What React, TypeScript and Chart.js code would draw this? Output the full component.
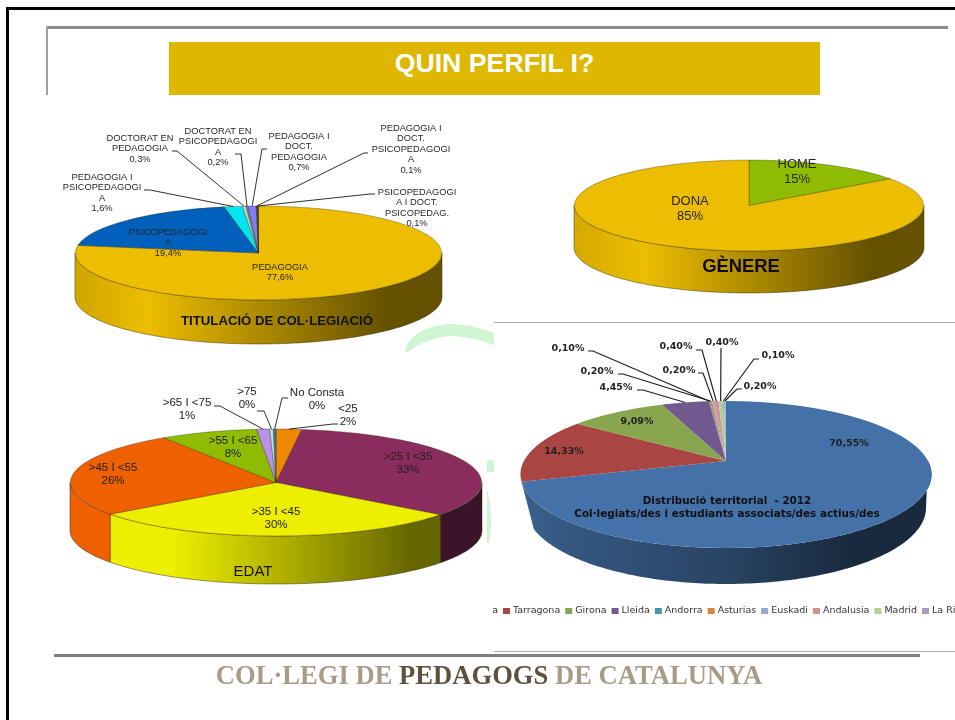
import React, { useEffect, useRef } from "react";
import { Chart, registerables } from "chart.js";

Chart.register(...registerables);

const W = 955;
const H = 720;

// ---------- DATA ----------
const titulacioCategories = [
  "PEDAGOGIA",
  "PSICOPEDAGOGI\nA",
  "PEDAGOGIA I\nPSICOPEDAGOGI\nA",
  "DOCTORAT EN\nPEDAGOGIA",
  "DOCTORAT EN\nPSICOPEDAGOGI\nA",
  "PEDAGOGIA I\nDOCT.\nPEDAGOGIA",
  "PEDAGOGIA I\nDOCT.\nPSICOPEDAGOGI\nA",
  "PSICOPEDAGOGI\nA I DOCT.\nPSICOPEDAG.",
];
const titulacioValues = [77.6, 19.4, 1.6, 0.3, 0.2, 0.7, 0.1, 0.1];
const titulacioColors = ["#ECBD00", "#0060BC", "#00E5EE", "#B8DCCC", "#6D7CB0", "#8080F0", "#303060", "#1F3050"];

const genereCategories = ["HOME", "DONA"];
const genereValues = [15, 85];
const genereColors = ["#8FBC00", "#ECBD00"];

const edatCategories = [
  "<25", ">25 I <35", ">35 I <45", ">45 I <55", ">55 I <65", ">65 I <75", ">75", "No Consta",
];
const edatValues = [2.0, 33.3, 29.6, 25.9, 7.7, 1.0, 0.3, 0.2];
const edatColors = ["#EE8800", "#8B2C5E", "#EEEE00", "#EE6000", "#8FBC00", "#BB90EE", "#B0E8C0", "#4070C0"];

const territoriCategories = [
  "Barcelona", "Tarragona", "Girona", "Lleida", "Andorra", "Asturias",
  "Euskadi", "Andalusia", "Madrid", "La Rioja", "Altres",
];
const territoriValues = [70.55, 14.33, 9.09, 4.45, 0.1, 0.2, 0.2, 0.4, 0.4, 0.1, 0.2];
const territoriColors = [
  "#4471A7", "#A94643", "#89A54E", "#71588F", "#4198AF", "#DB843D",
  "#93A9CF", "#D19392", "#B9CD96", "#A99BBD", "#8CC4D8",
];

// ---------- LAYOUT ----------
type LabelPos = { x: number; y: number; leader?: number[] };

const titulacioLabels: LabelPos[] = [
  { x: 280, y: 267 },
  { x: 168, y: 232 },
  { x: 102, y: 177, leader: [144, 190, 150, 190] },
  { x: 140, y: 138, leader: [172, 151, 177, 151] },
  { x: 218, y: 131, leader: [235, 154, 241, 154] },
  { x: 299, y: 136, leader: [267, 149, 262, 149] },
  { x: 411, y: 128, leader: [368, 153, 364, 153] },
  { x: 417, y: 192, leader: [375, 194, 370, 194] },
];
const genereLabels: LabelPos[] = [
  { x: 797, y: 164 },
  { x: 690, y: 201 },
];
const edatLabels: LabelPos[] = [
  { x: 348, y: 409, leader: [338, 424, 333, 424] },
  { x: 408, y: 457 },
  { x: 276, y: 512 },
  { x: 113, y: 468 },
  { x: 233, y: 441 },
  { x: 187, y: 403, leader: [214, 406, 220, 406] },
  { x: 247, y: 392, leader: [257, 411, 264, 411] },
  { x: 317, y: 393, leader: [288, 398, 282, 398] },
];
const territoriLabels: LabelPos[] = [
  { x: 849, y: 444 },
  { x: 564, y: 452 },
  { x: 637, y: 422 },
  { x: 616, y: 388, leader: [637, 390, 643, 390] },
  { x: 568, y: 349, leader: [588, 351, 593, 351] },
  { x: 597, y: 372, leader: [618, 374, 623, 374] },
  { x: 679, y: 371, leader: [698, 373, 703, 373] },
  { x: 676, y: 347, leader: [696, 350, 702, 350] },
  { x: 722, y: 343, leader: [721, 348, 721, 348] },
  { x: 778, y: 356, leader: [759, 359, 754, 359] },
  { x: 760, y: 387, leader: [742, 389, 737, 389] },
];

type Caption = { text: string; x: number; y: number; font: string; color: string };

type PieCfg = {
  categories: string[];
  values: number[];
  colors: string[];
  cx: number;
  rx: number;
  apexY: number;
  topY: number;
  bottomY: number;
  wallBottom: { cy: number; rx: number; ry: number };
  wallStops: number[][];
  wallSlices?: number;
  border: string | null;
  labels: LabelPos[];
  font: string;
  lineHeight: number;
  leaderWidth: number;
  textColor: string;
  showName: boolean;
  format: (v: number) => string;
  captions: Caption[];
  legend?: boolean;
};

const comma = (v: number, d: number) => v.toFixed(d).replace(".", ",") + "%";

const pieConfigs: PieCfg[] = [
  {
    categories: titulacioCategories,
    values: titulacioValues,
    colors: titulacioColors,
    cx: 258.5,
    rx: 183.5,
    apexY: 253,
    topY: 206,
    bottomY: 300,
    wallBottom: { cy: 297, rx: 183.5, ry: 47 },
    wallStops: [[0, 0.88], [0.2, 1], [0.85, 0.43], [1, 0.43]],
    border: "rgba(50,40,0,0.65)",
    labels: titulacioLabels,
    font: "9.3px 'Liberation Sans'",
    lineHeight: 10.6,
    leaderWidth: 0.9,
    textColor: "#262626",
    showName: true,
    format: (v) => comma(v, 1),
    captions: [
      { text: "TITULACIÓ DE COL·LEGIACIÓ", x: 277, y: 321, font: "bold 13.2px 'Liberation Sans'", color: "#111" },
    ],
  },
  {
    categories: genereCategories,
    values: genereValues,
    colors: genereColors,
    cx: 749,
    rx: 175,
    apexY: 205.5,
    topY: 160,
    bottomY: 251,
    wallBottom: { cy: 247.5, rx: 175, ry: 45.5 },
    wallStops: [[0, 0.9], [0.2, 1], [0.85, 0.43], [1, 0.43]],
    border: "rgba(50,40,0,0.65)",
    labels: genereLabels,
    font: "13px 'Liberation Sans'",
    lineHeight: 15,
    leaderWidth: 0.9,
    textColor: "#262626",
    showName: true,
    format: (v) => v.toFixed(0) + "%",
    captions: [
      { text: "GÈNERE", x: 741, y: 267, font: "bold 18.4px 'Liberation Sans'", color: "#0a0a0a" },
    ],
  },
  {
    categories: edatCategories,
    values: edatValues,
    colors: edatColors,
    cx: 276,
    rx: 206,
    apexY: 482.5,
    topY: 429,
    bottomY: 536,
    wallBottom: { cy: 530.5, rx: 206, ry: 53.5 },
    wallStops: [[0, 1], [0.25, 1], [0.83, 0.43], [1, 0.43]],
    border: "rgba(40,30,0,0.65)",
    labels: edatLabels,
    font: "11.5px 'Liberation Sans'",
    lineHeight: 13,
    leaderWidth: 0.9,
    textColor: "#222",
    showName: true,
    format: (v) => Math.round(v) + "%",
    captions: [{ text: "EDAT", x: 253, y: 572, font: "15px 'Liberation Sans'", color: "#111" }],
  },
  {
    categories: territoriCategories,
    values: territoriValues,
    colors: territoriColors,
    cx: 726,
    rx: 205.5,
    apexY: 461,
    topY: 401,
    bottomY: 548,
    wallBottom: { cy: 508, rx: 200, ry: 76 },
    wallStops: [[0, 0.85], [0.15, 0.75], [0.5, 0.6], [0.8, 0.37], [1, 0.37]],
    wallSlices: 1,
    border: null,
    labels: territoriLabels,
    font: "bold 9.5px 'DejaVu Sans'",
    lineHeight: 11,
    leaderWidth: 1.15,
    textColor: "#222",
    showName: false,
    format: (v) => comma(v, 2),
    captions: [
      { text: "Distribució territorial  - 2012", x: 727, y: 501, font: "bold 10.4px 'DejaVu Sans'", color: "#111" },
      { text: "Col·legiats/des i estudiants associats/des actius/des", x: 727, y: 514, font: "bold 10.4px 'DejaVu Sans'", color: "#111" },
    ],
    legend: true,
  },
];

// ---------- HELPERS ----------
function shade(hex: string, k: number) {
  const n = parseInt(hex.slice(1), 16);
  const r = Math.round(((n >> 16) & 255) * k);
  const g = Math.round(((n >> 8) & 255) * k);
  const b = Math.round((n & 255) * k);
  return `rgb(${r},${g},${b})`;
}

// Perspective of the disc: unit disc (u, v) -> (c u / (1 - b v), a v / (1 - b v)) around the apex
function perspective(cfg: PieCfg) {
  const up = cfg.apexY - cfg.topY;
  const down = cfg.bottomY - cfg.apexY;
  const b = (down - up) / (down + up);
  const a = up * (1 + b);
  const c = cfg.rx * Math.sqrt(1 - b * b);
  return { a, b, c };
}

function rimPoint(cfg: PieCfg, t: number) {
  const { a, b, c } = perspective(cfg);
  const u = Math.sin(t);
  const v = -Math.cos(t);
  const w = 1 - b * v;
  return { x: cfg.cx + (c * u) / w, y: cfg.apexY + (a * v) / w };
}

function bottomPoint(cfg: PieCfg, t: number) {
  const bt = cfg.wallBottom;
  return { x: cfg.cx + bt.rx * Math.sin(t), y: bt.cy - bt.ry * Math.cos(t) };
}

const projection3d = {
  id: "projection3d",
  beforeDatasetsDraw(chart: any, _args: any, opts: any) {
    const cfg: PieCfg = opts.cfg;
    const ctx: CanvasRenderingContext2D = chart.ctx;
    const meta = chart.getDatasetMeta(0);
    const arcs = meta.data;
    // side wall
    const lo = Math.PI / 2;
    const hi = (3 * Math.PI) / 2;
    arcs.forEach((arc: any, i: number) => {
      if (cfg.wallSlices !== undefined && i >= cfg.wallSlices) return;
      const t1 = Math.max(arc.startAngle + Math.PI / 2, lo);
      const t2 = Math.min(arc.endAngle + Math.PI / 2, hi);
      if (t2 <= t1) return;
      const g = ctx.createLinearGradient(cfg.cx - cfg.rx, 0, cfg.cx + cfg.rx, 0);
      cfg.wallStops.forEach(([p, k]) => g.addColorStop(p, shade(cfg.colors[i], k)));
      ctx.beginPath();
      const steps = Math.max(2, Math.ceil((t2 - t1) / 0.02));
      for (let s = 0; s <= steps; s++) {
        const p = rimPoint(cfg, t1 + ((t2 - t1) * s) / steps);
        if (s === 0) ctx.moveTo(p.x, p.y);
        else ctx.lineTo(p.x, p.y);
      }
      for (let s = steps; s >= 0; s--) {
        const p = bottomPoint(cfg, t1 + ((t2 - t1) * s) / steps);
        ctx.lineTo(p.x, p.y);
      }
      ctx.closePath();
      ctx.fillStyle = g;
      ctx.fill();
      if (cfg.border) {
        ctx.strokeStyle = cfg.border;
        ctx.lineWidth = 0.7;
        ctx.stroke();
      }
    });
    // top surface through the library's own arc elements, projected
    const ax = arcs[0].x;
    const ay = arcs[0].y;
    const R = arcs[0].outerRadius;
    const { a, b, c } = perspective(cfg);
    if (Math.abs(b) < 0.01) {
      ctx.save();
      ctx.translate(cfg.cx, cfg.apexY);
      ctx.scale(1, a / R);
      ctx.translate(-ax, -ay);
      meta.controller.draw();
      ctx.restore();
    } else {
      for (let row = Math.floor(cfg.topY) - 1; row <= Math.ceil(cfg.bottomY); row++) {
        const Y = row + 0.5 - cfg.apexY;
        const v = Y / (a + b * Y);
        const w = 1 - b * v;
        ctx.save();
        ctx.beginPath();
        ctx.rect(0, row, W, 1);
        ctx.clip();
        ctx.translate(cfg.cx, row + 0.5);
        ctx.scale(c / (R * w), a / (w * w * R));
        ctx.translate(-ax, -(ay + v * R));
        meta.controller.draw();
        ctx.restore();
      }
    }
    return false;
  },
  afterDraw(chart: any, _args: any, opts: any) {
    const cfg: PieCfg = opts.cfg;
    const ctx: CanvasRenderingContext2D = chart.ctx;
    const arcs = chart.getDatasetMeta(0).data;
    ctx.save();
    ctx.textAlign = "center";
    ctx.textBaseline = "middle";
    // leaders and value labels
    cfg.labels.forEach((pos, i) => {
      if (pos.leader) {
        const mid = (arcs[i].startAngle + arcs[i].endAngle) / 2 + Math.PI / 2;
        const p = rimPoint(cfg, mid);
        ctx.beginPath();
        ctx.moveTo(pos.leader[0], pos.leader[1]);
        ctx.lineTo(pos.leader[2], pos.leader[3]);
        ctx.lineTo(p.x, p.y);
        ctx.strokeStyle = "#1a1a1a";
        ctx.lineWidth = cfg.leaderWidth;
        ctx.stroke();
      }
      const lines = (cfg.showName ? cfg.categories[i].split("\n") : []).concat(cfg.format(cfg.values[i]));
      ctx.font = cfg.font;
      ctx.fillStyle = cfg.textColor;
      lines.forEach((ln, k) => ctx.fillText(ln, pos.x, pos.y + k * cfg.lineHeight));
    });
    cfg.captions.forEach((cap) => {
      ctx.font = cap.font;
      ctx.fillStyle = cap.color;
      ctx.fillText(cap.text, cap.x, cap.y);
    });
    // clipped legend strip
    if (cfg.legend) {
      ctx.save();
      ctx.beginPath();
      ctx.rect(492, 600, W - 492, 24);
      ctx.clip();
      ctx.font = "9.5px 'DejaVu Sans'";
      ctx.textAlign = "left";
      const y = 611;
      const itemW = (s: string) => 10 + ctx.measureText(s).width + 5;
      let x = 503 - itemW(cfg.categories[0]);
      cfg.categories.forEach((name, i) => {
        ctx.fillStyle = cfg.colors[i];
        ctx.fillRect(x, y - 3, 7, 6);
        ctx.fillStyle = "#333";
        ctx.fillText(name, x + 10, y);
        x += itemW(name);
      });
      ctx.restore();
    }
    ctx.restore();
  },
};

function PieCanvas({ cfg }: { cfg: PieCfg }) {
  const ref = useRef<HTMLCanvasElement | null>(null);
  useEffect(() => {
    if (!ref.current) return;
    const R = cfg.rx;
    const chart = new Chart(ref.current, {
      type: "pie",
      data: {
        labels: cfg.categories,
        datasets: [
          {
            data: cfg.values,
            backgroundColor: cfg.colors,
            borderColor: cfg.border || "rgba(0,0,0,0)",
            borderWidth: cfg.border ? 0.8 : 0,
          },
        ],
      },
      options: {
        animation: false,
        responsive: false,
        devicePixelRatio: 1,
        layout: {
          padding: { left: cfg.cx - R, right: W - cfg.cx - R, top: 0, bottom: H - 2 * R },
        },
        plugins: {
          legend: { display: false },
          tooltip: { enabled: false },
          projection3d: { cfg },
        },
      } as any,
      plugins: [projection3d as any],
    });
    return () => chart.destroy();
  }, [cfg]);
  return (
    <canvas
      ref={ref}
      width={W}
      height={H}
      style={{ position: "absolute", left: 0, top: 0, width: W, height: H, pointerEvents: "none" }}
    />
  );
}

const bar = (left: number, top: number, width: number, height: number, background: string): React.CSSProperties => ({
  position: "absolute",
  left,
  top,
  width,
  height,
  background,
});

export default function App() {
  return (
    <div style={{ position: "absolute", left: 0, top: 0, width: W, height: H, background: "#fff", overflow: "hidden" }}>
      <div style={bar(6, 7, W - 6, 2.5, "#000")} />
      <div style={bar(6, 7, 2.5, H - 7, "#000")} />
      <div style={bar(46, 26, 902, 2.5, "#8c8c8c")} />
      <div style={bar(46, 26, 1.5, 69, "#a0a0a0")} />
      <div
        style={{
          ...bar(169, 42, 651, 53, "#DFB700"),
          color: "#fff",
          font: "bold 26.7px 'Liberation Sans'",
          lineHeight: "43px",
          textAlign: "center",
        }}
      >
        QUIN PERFIL I?
      </div>
      <svg width={W} height={H} style={{ position: "absolute", left: 0, top: 0 }}>
        <path
          d="M405 352 C406 338 425 325 450 324 C470 324 485 330 494 333 L494 345 C480 340 465 336 450 336 C435 338 420 342 408 352 Z"
          fill="#CFF5D2"
        />
        <rect x={487} y={460} width={7} height={12} fill="#CFF5D2" />
        <path d="M487 488 C491 505 493 525 489 543 L487 543 Z" fill="#CFF5D2" />
      </svg>
      <div style={bar(494, 321.5, 461, 1.5, "#aaa")} />
      <div style={bar(494, 650.5, 461, 1.5, "#aaa")} />
      <div style={bar(54, 654, 866, 2.7, "#808080")} />
      {pieConfigs.map((cfg, i) => (
        <PieCanvas key={i} cfg={cfg} />
      ))}
      <div
        style={{
          position: "absolute",
          left: 0,
          width: 978,
          top: 659,
          textAlign: "center",
          font: "bold 26.6px 'Liberation Serif'",
          lineHeight: "32px",
          color: "#A89C88",
          whiteSpace: "nowrap",
        }}
      >
        COL·LEGI DE <span style={{ color: "#5E523E" }}>PEDAGOGS</span> DE CATALUNYA
      </div>
    </div>
  );
}
